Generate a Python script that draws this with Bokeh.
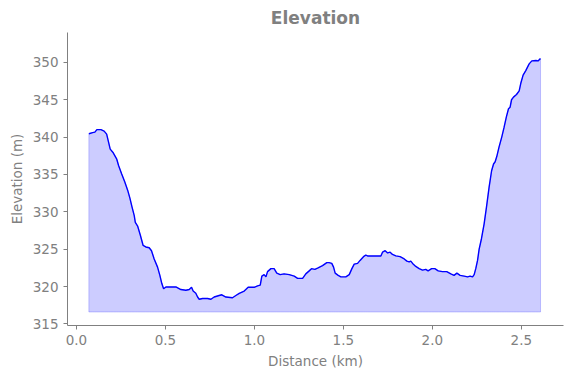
from bokeh.plotting import figure
from bokeh.models import Range1d, FixedTicker, NumeralTickFormatter
from bokeh.embed import file_html
from bokeh.resources import INLINE

distance_km = [0.070, 0.091, 0.104, 0.115, 0.138, 0.156, 0.170, 0.181, 0.190, 0.207,
               0.226, 0.237, 0.254, 0.272, 0.288, 0.301, 0.312, 0.325, 0.331, 0.344,
               0.359, 0.375, 0.390, 0.409, 0.422, 0.437, 0.456, 0.469, 0.480, 0.490,
               0.503, 0.559, 0.587, 0.615, 0.634, 0.647, 0.656, 0.671, 0.681, 0.690,
               0.709, 0.737, 0.756, 0.774, 0.802, 0.817, 0.840, 0.877, 0.896, 0.915,
               0.943, 0.965, 0.999, 1.018, 1.033, 1.042, 1.055, 1.065, 1.074, 1.093,
               1.111, 1.126, 1.145, 1.167, 1.196, 1.224, 1.243, 1.271, 1.289, 1.308,
               1.321, 1.340, 1.358, 1.383, 1.407, 1.420, 1.435, 1.445, 1.454, 1.471,
               1.486, 1.514, 1.533, 1.548, 1.561, 1.580, 1.594, 1.613, 1.626, 1.636,
               1.654, 1.711, 1.720, 1.735, 1.749, 1.763, 1.776, 1.795, 1.819, 1.842,
               1.857, 1.870, 1.879, 1.889, 1.907, 1.926, 1.945, 1.963, 1.976, 1.996,
               2.014, 2.033, 2.057, 2.081, 2.104, 2.122, 2.138, 2.156, 2.179, 2.198,
               2.212, 2.226, 2.235, 2.244, 2.254, 2.263, 2.276, 2.291, 2.304, 2.319,
               2.333, 2.344, 2.353, 2.362, 2.375, 2.390, 2.403, 2.416, 2.428, 2.437,
               2.445, 2.456, 2.473, 2.488, 2.497, 2.510, 2.525, 2.544, 2.559, 2.582,
               2.594, 2.602, 2.608]
elevation_m = [340.45, 340.6, 340.67, 341.0, 341.0, 340.8, 340.4, 339.3, 338.4, 337.9,
               337.1, 336.2, 335.1, 334.0, 332.9, 331.8, 330.7, 329.5, 328.6, 328.1,
               326.9, 325.5, 325.3, 325.2, 324.8, 323.7, 322.6, 321.5, 320.4, 319.7,
               319.95, 319.95, 319.6, 319.5, 319.6, 319.9, 319.4, 319.1, 318.6, 318.3,
               318.4, 318.4, 318.3, 318.6, 318.8, 318.9, 318.6, 318.5, 318.8, 319.1,
               319.4, 319.9, 319.9, 320.1, 320.2, 321.4, 321.6, 321.3, 322.0, 322.4,
               322.4, 321.8, 321.6, 321.7, 321.6, 321.4, 321.1, 321.1, 321.7, 322.1,
               322.4, 322.3, 322.5, 322.8, 323.2, 323.2, 323.1, 322.6, 321.8, 321.5,
               321.3, 321.3, 321.6, 322.4, 323.0, 323.1, 323.5, 324.0, 324.2, 324.1,
               324.1, 324.1, 324.6, 324.8, 324.5, 324.6, 324.3, 324.1, 324.0, 323.7,
               323.4, 323.3, 323.4, 323.1, 322.7, 322.4, 322.2, 322.3, 322.1, 322.4,
               322.4, 322.1, 322.0, 322.0, 321.7, 321.5, 321.8, 321.5, 321.4, 321.3,
               321.4, 321.3, 321.6, 322.4, 323.5, 325.0, 326.4, 328.4, 330.6, 333.3,
               335.5, 336.4, 336.7, 337.4, 338.7, 340.0, 341.3, 342.7, 343.8, 344.0,
               345.0, 345.35, 345.7, 346.2, 347.2, 348.3, 348.9, 349.8, 350.2, 350.25,
               350.2, 350.4, 350.5]
fill_base_m = 316.6
x_ticks = [0.0, 0.5, 1.0, 1.5, 2.0, 2.5]
y_ticks = [315, 320, 325, 330, 335, 340, 345, 350]

GRAY = "#808080"
FONT = "DejaVu Sans"

p = figure(width=571, height=378, output_backend="svg", toolbar_location=None,
           x_range=Range1d(-0.05, 2.737), y_range=Range1d(314.79, 354.0),
           min_border_left=67, min_border_right=8, min_border_top=32, min_border_bottom=53)
p.outline_line_color = None
p.xgrid.visible = False
p.ygrid.visible = False
p.background_fill_color = "white"
p.border_fill_color = "white"

patch_x = distance_km + distance_km[::-1]
patch_y = elevation_m + [fill_base_m] * len(distance_km)
p.patch(patch_x, patch_y, fill_color="blue", fill_alpha=0.2,
        line_color="blue", line_alpha=0.2, line_width=1)
p.line(distance_km, elevation_m, line_color="blue", line_width=1.4)

p.title.text = "Elevation"
p.title.align = "center"
p.title.text_font = FONT
p.title.text_font_size = "17px"
p.title.text_font_style = "bold"
p.title.text_color = GRAY

for ax in (p.xaxis[0], p.yaxis[0]):
    ax.axis_line_color = GRAY
    ax.major_tick_line_color = GRAY
    ax.minor_tick_line_color = None
    ax.major_tick_out = 4
    ax.major_tick_in = 0
    ax.major_label_text_font = FONT
    ax.major_label_text_font_size = "13.5px"
    ax.major_label_text_color = GRAY
    ax.axis_label_text_font = FONT
    ax.axis_label_text_font_size = "13.5px"
    ax.axis_label_text_font_style = "normal"
    ax.axis_label_text_color = GRAY

p.xaxis.ticker = FixedTicker(ticks=x_ticks)
p.xaxis.formatter = NumeralTickFormatter(format="0.0")
p.yaxis.ticker = FixedTicker(ticks=y_ticks)
p.xaxis.axis_label = "Distance (km)"
p.yaxis.axis_label = "Elevation (m)"

open("out.html", "w").write(file_html(p, INLINE))
